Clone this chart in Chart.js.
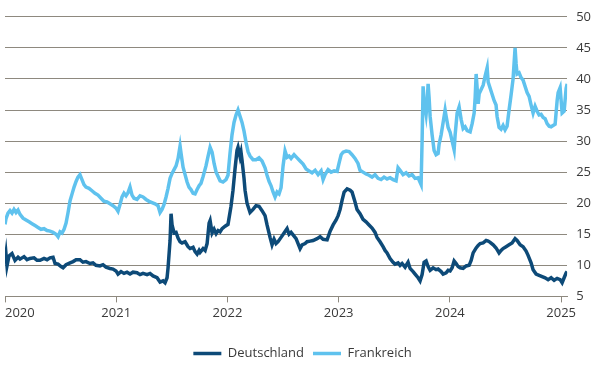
<!DOCTYPE html>
<html>
<head>
<meta charset="utf-8">
<script src="https://cdn.jsdelivr.net/npm/chart.js@4.4.1/dist/chart.umd.min.js"></script>
<style>
  html, body { margin: 0; padding: 0; background: #fff; }
  #wrap { width: 600px; height: 380px; }
</style>
</head>
<body>
<div id="wrap"><canvas id="c" width="600" height="380"></canvas></div>
<script>
// Tick labels
const yearTicks = [2020, 2021, 2022, 2023, 2024, 2025];
const dataEnd = 2025.054;

// Deutschland (decimal year, value)
const deDates = [2020.000,2020.009,2020.018,2020.036,2020.063,2020.090,2020.117,2020.135,2020.171,2020.198,2020.225,2020.261,2020.288,2020.315,2020.351,2020.378,2020.405,2020.432,2020.450,2020.477,2020.504,2020.522,2020.549,2020.585,2020.612,2020.639,2020.674,2020.701,2020.728,2020.764,2020.791,2020.818,2020.854,2020.881,2020.908,2020.944,2020.971,2020.998,
2021.016,2021.043,2021.070,2021.097,2021.124,2021.151,2021.187,2021.214,2021.241,2021.277,2021.304,2021.331,2021.367,2021.394,2021.421,2021.439,2021.457,2021.466,2021.484,2021.493,2021.502,2021.520,2021.538,2021.556,2021.574,2021.592,2021.619,2021.646,2021.664,2021.691,2021.709,2021.727,2021.745,2021.754,2021.781,2021.799,2021.817,2021.835,2021.844,2021.862,2021.880,2021.898,2021.916,2021.934,2021.952,2021.979,
2022.005,2022.032,2022.050,2022.068,2022.086,2022.095,2022.113,2022.122,2022.131,2022.149,2022.158,2022.176,2022.203,2022.230,2022.257,2022.284,2022.311,2022.338,2022.356,2022.383,2022.401,2022.419,2022.437,2022.455,2022.482,2022.509,2022.536,2022.554,2022.572,2022.590,2022.617,2022.635,2022.653,2022.671,2022.698,2022.716,2022.743,2022.770,2022.806,2022.833,2022.860,2022.896,2022.923,2022.950,2022.977,2022.995,
2023.013,2023.031,2023.049,2023.076,2023.103,2023.120,2023.147,2023.165,2023.192,2023.219,2023.246,2023.273,2023.300,2023.327,2023.345,2023.372,2023.399,2023.417,2023.435,2023.462,2023.489,2023.507,2023.534,2023.552,2023.570,2023.597,2023.624,2023.642,2023.669,2023.687,2023.714,2023.732,2023.750,2023.768,2023.786,2023.804,2023.822,2023.849,2023.876,2023.894,2023.921,2023.939,2023.966,2023.984,
2024.002,2024.020,2024.038,2024.056,2024.074,2024.092,2024.119,2024.146,2024.173,2024.191,2024.209,2024.236,2024.254,2024.272,2024.299,2024.326,2024.344,2024.362,2024.389,2024.415,2024.442,2024.460,2024.478,2024.505,2024.532,2024.559,2024.586,2024.604,2024.631,2024.658,2024.685,2024.703,2024.730,2024.748,2024.775,2024.802,2024.829,2024.856,2024.883,2024.910,2024.937,2024.964,2024.991,
2025.009,2025.027,2025.045,2025.054];
const deValues = [10.5,11.8,9.9,11.5,11.9,10.8,11.3,11.0,11.4,10.9,11.1,11.2,10.8,10.8,11.1,10.9,11.2,11.3,10.3,10.2,9.8,9.6,10.1,10.4,10.6,10.9,10.9,10.5,10.6,10.3,10.4,10.0,9.9,10.1,9.7,9.5,9.4,9.1,
8.6,9.0,8.7,8.9,8.6,8.9,8.8,8.5,8.7,8.5,8.7,8.3,8.0,7.3,7.5,7.2,8.0,9.6,14.0,18.3,16.5,15.2,15.3,14.4,13.8,13.6,13.8,13.0,12.7,12.9,12.2,11.8,12.4,12.1,12.7,12.4,13.5,16.8,17.2,15.2,15.8,15.1,15.6,15.4,15.9,16.3,
16.6,19.5,22.1,25.5,28.5,29.0,27.5,28.2,26.9,24.0,22.1,20.0,18.5,19.0,19.6,19.5,18.8,18.0,16.5,14.5,13.3,14.2,13.5,13.8,14.5,15.2,15.9,15.0,15.3,14.9,14.3,13.5,12.7,13.3,13.5,13.8,13.9,14.0,14.3,14.6,14.2,14.1,15.5,16.5,17.3,18.0,
19.0,20.5,21.8,22.3,22.1,21.8,20.2,19.0,18.3,17.4,17.0,16.5,16.0,15.3,14.5,13.8,13.0,12.4,12.0,11.1,10.5,10.2,10.4,10.0,10.3,9.7,10.5,9.5,9.0,8.6,8.0,7.5,8.5,10.5,10.7,9.8,9.2,9.6,9.3,9.4,9.0,8.6,8.8,9.2,
9.1,9.6,10.7,10.3,9.8,9.6,9.5,9.9,10.0,10.8,12.0,12.8,13.2,13.5,13.6,14.0,13.9,13.7,13.3,12.8,12.0,12.4,12.7,13.0,13.3,13.6,14.3,14.0,13.3,13.0,12.3,11.6,10.4,9.3,8.6,8.4,8.2,8.0,7.7,8.0,7.6,7.9,7.7,
7.2,8.0,8.8,9.0];

// Frankreich (decimal year, value)
const frDates = [2020.000,2020.009,2020.027,2020.045,2020.063,2020.081,2020.099,2020.117,2020.135,2020.162,2020.189,2020.216,2020.243,2020.270,2020.297,2020.324,2020.351,2020.378,2020.405,2020.432,2020.459,2020.477,2020.495,2020.513,2020.531,2020.549,2020.567,2020.585,2020.603,2020.621,2020.639,2020.656,2020.674,2020.692,2020.710,2020.728,2020.755,2020.782,2020.809,2020.836,2020.863,2020.890,2020.917,2020.944,2020.971,2020.998,
2021.016,2021.034,2021.052,2021.070,2021.088,2021.106,2021.124,2021.142,2021.160,2021.187,2021.214,2021.241,2021.268,2021.295,2021.322,2021.349,2021.376,2021.394,2021.412,2021.430,2021.448,2021.466,2021.484,2021.502,2021.520,2021.538,2021.556,2021.574,2021.583,2021.601,2021.619,2021.637,2021.654,2021.672,2021.691,2021.709,2021.727,2021.745,2021.762,2021.781,2021.807,2021.825,2021.844,2021.862,2021.880,2021.898,2021.916,2021.934,2021.960,2021.987,
2022.005,2022.023,2022.041,2022.059,2022.077,2022.095,2022.113,2022.131,2022.149,2022.167,2022.185,2022.203,2022.230,2022.257,2022.284,2022.311,2022.338,2022.356,2022.374,2022.392,2022.410,2022.428,2022.446,2022.464,2022.482,2022.500,2022.518,2022.536,2022.554,2022.572,2022.599,2022.626,2022.653,2022.680,2022.707,2022.734,2022.761,2022.788,2022.815,2022.842,2022.860,2022.878,2022.905,2022.932,2022.959,2022.986,
2023.004,2023.022,2023.040,2023.067,2023.094,2023.120,2023.147,2023.174,2023.192,2023.219,2023.246,2023.273,2023.300,2023.327,2023.354,2023.381,2023.408,2023.435,2023.462,2023.489,2023.516,2023.534,2023.552,2023.579,2023.606,2023.633,2023.660,2023.687,2023.714,2023.741,2023.750,2023.759,2023.768,2023.786,2023.795,2023.804,2023.813,2023.822,2023.840,2023.858,2023.876,2023.894,2023.903,2023.921,2023.939,2023.957,2023.966,2023.984,
2024.002,2024.020,2024.038,2024.047,2024.065,2024.083,2024.101,2024.119,2024.137,2024.155,2024.182,2024.200,2024.218,2024.227,2024.236,2024.245,2024.254,2024.263,2024.281,2024.299,2024.317,2024.335,2024.344,2024.362,2024.380,2024.398,2024.415,2024.424,2024.442,2024.460,2024.478,2024.496,2024.514,2024.532,2024.550,2024.568,2024.586,2024.595,2024.604,2024.622,2024.640,2024.658,2024.676,2024.694,2024.712,2024.730,2024.748,2024.766,2024.784,2024.802,2024.820,2024.838,2024.856,2024.874,2024.892,2024.910,2024.928,2024.946,2024.964,2024.973,2024.991,
2025.009,2025.027,2025.045,2025.054];
const frValues = [16.6,17.5,18.4,18.8,18.4,19.0,18.5,18.9,18.2,17.6,17.3,17.0,16.7,16.4,16.1,15.8,15.9,15.6,15.5,15.3,15.0,14.6,15.4,15.2,15.8,16.8,18.5,20.4,21.5,22.6,23.5,24.2,24.6,23.8,23.0,22.6,22.4,22.0,21.6,21.3,20.8,20.3,20.2,19.9,19.6,19.2,
18.7,19.8,21.0,21.6,21.2,21.7,22.6,21.3,20.8,20.6,21.2,21.0,20.6,20.3,20.1,19.9,19.6,18.5,19.0,19.8,21.0,22.4,24.0,24.8,25.4,26.0,27.2,29.2,28.0,25.8,24.6,23.4,22.6,22.2,21.6,21.5,22.2,22.8,23.2,24.3,26.0,27.5,29.0,28.2,26.4,25.0,24.3,23.6,23.4,23.8,
24.5,28.0,31.0,33.0,34.2,35.0,34.0,33.0,31.6,29.8,28.3,27.6,27.0,27.0,27.3,26.8,25.7,24.5,23.5,22.8,21.8,21.0,21.8,21.5,22.5,26.0,28.4,27.4,27.6,27.2,27.8,27.3,26.8,26.3,25.5,25.2,24.9,25.3,24.6,25.2,23.8,24.6,25.4,25.0,25.2,25.1,
26.5,27.8,28.2,28.4,28.3,27.8,27.2,26.4,25.3,25.0,24.7,24.5,24.2,24.6,24.0,23.8,24.2,23.9,24.1,23.8,23.6,25.7,25.3,24.6,24.9,24.4,24.6,24.0,24.1,23.0,30.0,38.8,36.5,34.3,36.0,39.2,37.0,34.0,31.0,28.5,27.8,28.0,29.5,31.0,33.0,35.0,34.0,32.2,
31.4,30.0,28.6,31.0,34.5,35.5,33.5,32.0,32.3,31.7,31.5,32.8,34.5,37.0,40.8,38.5,36.0,37.6,38.3,39.0,40.5,41.8,39.5,38.5,37.5,36.5,35.8,34.0,32.2,31.9,32.5,31.8,32.4,35.0,37.4,40.0,45.0,42.5,40.8,41.0,40.2,39.8,38.8,37.8,37.2,35.8,34.5,35.6,34.8,34.2,34.3,33.8,33.6,32.8,32.4,32.3,32.5,32.7,36.5,37.8,38.6,
34.5,34.8,38.5,39.2];

const seriesNames = ['Deutschland', 'Frankreich'];

const toXY = (xs, ys) => xs.map((x, i) => ({ x: x, y: ys[i] }));
const gridGray = '#8e897f';
const textCol = '#3a3a3a';
const FONT = "'Open Sans', 'Noto Sans', sans-serif";

new Chart(document.getElementById('c'), {
  type: 'line',
  data: {
    datasets: [
      { label: seriesNames[0], data: toXY(deDates, deValues), borderColor: '#0d4a78', backgroundColor: '#0d4a78', borderWidth: 3.5, pointRadius: 0, tension: 0 },
      { label: seriesNames[1], data: toXY(frDates, frValues), borderColor: '#5fc2ee', backgroundColor: '#5fc2ee', borderWidth: 3.5, pointRadius: 0, tension: 0 }
    ]
  },
  options: {
    responsive: false,
    animation: false,
    layout: { padding: { left: 5, right: 0, top: 10, bottom: 10 } },
    scales: {
      x: {
        type: 'linear',
        min: yearTicks[0],
        max: dataEnd,
        afterBuildTicks: (s) => { s.ticks = yearTicks.concat([dataEnd]).map(v => ({ value: v })); },
        afterFit: (s) => { s.height += 14; },
        grid: {
          display: true,
          drawOnChartArea: false,
          drawTicks: true,
          tickLength: 6,
          color: (ctx) => (ctx.tick && yearTicks.includes(ctx.tick.value)) ? gridGray : 'rgba(0,0,0,0)'
        },
        border: { display: true, color: gridGray, width: 1 },
        ticks: {
          align: 'inner',
          autoSkip: false,
          maxRotation: 0,
          padding: 3,
          color: textCol,
          font: { family: FONT, size: 13 },
          callback: (v) => yearTicks.includes(v) ? String(v) : ''
        }
      },
      y: {
        position: 'right',
        min: 5,
        max: 50,
        grid: { color: gridGray, drawTicks: false, lineWidth: 1 },
        border: { display: false },
        ticks: {
          stepSize: 5,
          padding: 9,
          color: textCol,
          font: { family: FONT, size: 13 }
        }
      }
    },
    plugins: {
      legend: {
        position: 'bottom',
        labels: {
          usePointStyle: true,
          pointStyle: 'line',
          pointStyleWidth: 28,
          padding: 9,
          color: textCol,
          font: { family: FONT, size: 13 }
        }
      },
      tooltip: { enabled: false }
    }
  }
});
</script>
</body>
</html>
